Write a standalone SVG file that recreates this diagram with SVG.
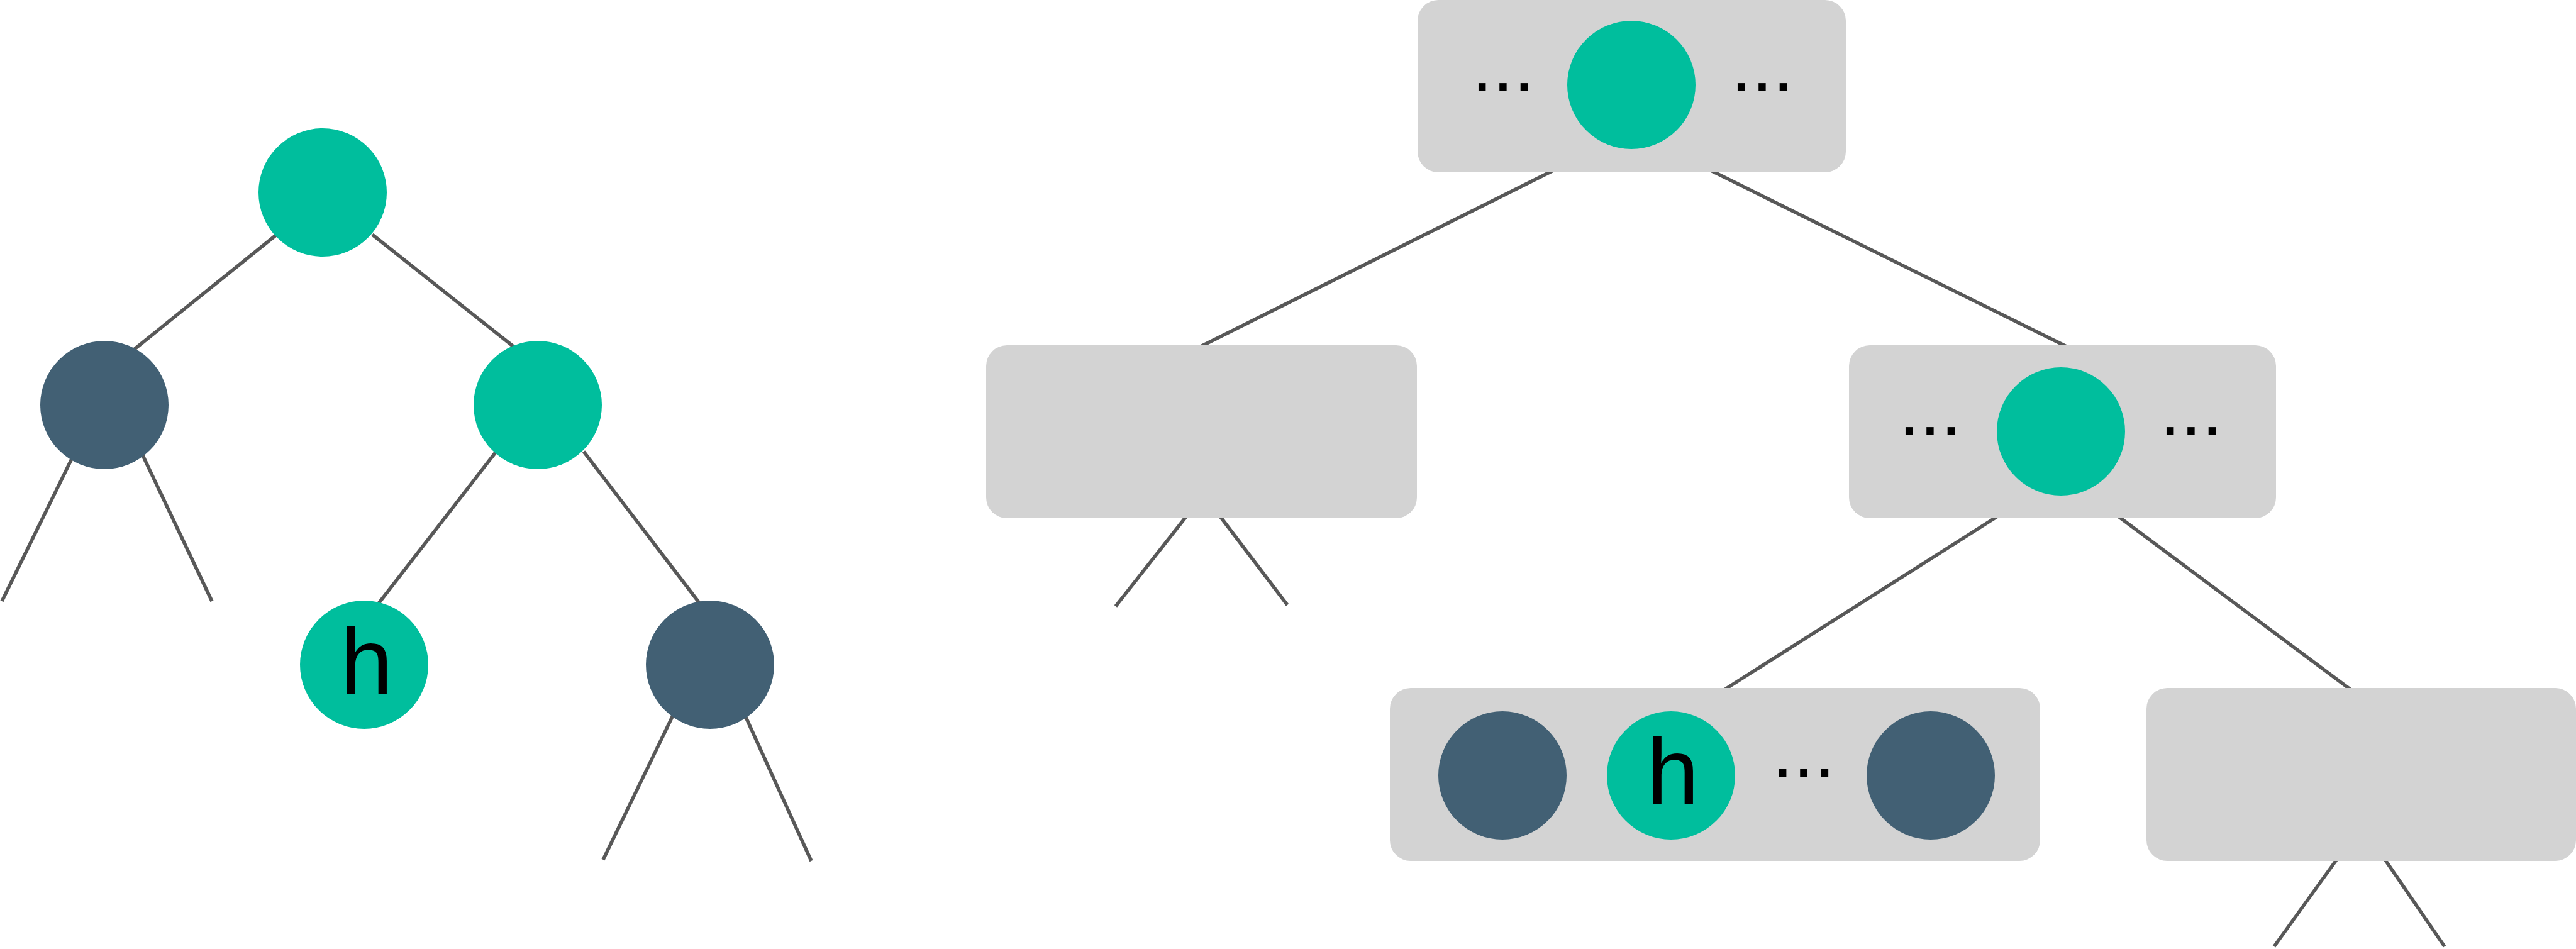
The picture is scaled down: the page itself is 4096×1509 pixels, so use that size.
<svg xmlns="http://www.w3.org/2000/svg" width="4096" height="1509" viewBox="0 0 4096 1509">
<style>
.edge{stroke:#585858;stroke-width:5.5;fill:none}
.g{fill:#00BE9D}
.d{fill:#426074}
.box{fill:#D3D3D3}
.dots{font-family:"Liberation Sans",Arial,sans-serif;font-size:120px;fill:#000;text-anchor:middle}
.lbl{font-family:"Liberation Sans",Arial,sans-serif;font-size:150px;fill:#000;text-anchor:middle}
</style>
<rect width="4096" height="1509" fill="#fff"/>
<g id="connectors">
<line class="edge" x1="440" y1="373" x2="214" y2="555"/>
<line class="edge" x1="592" y1="373" x2="819" y2="553"/>
<line class="edge" x1="156" y1="644" x2="3" y2="956"/>
<line class="edge" x1="189" y1="644" x2="337" y2="956"/>
<line class="edge" x1="789" y1="718" x2="600" y2="962"/>
<line class="edge" x1="928" y1="718" x2="1113" y2="960"/>
<line class="edge" x1="1109" y1="1057" x2="959" y2="1367"/>
<line class="edge" x1="1148" y1="1057" x2="1290" y2="1369"/>
<line class="edge" x1="2480" y1="266" x2="1909" y2="551"/>
<line class="edge" x1="2710" y1="266" x2="3286" y2="551"/>
<line class="edge" x1="1903" y1="800" x2="1774" y2="964"/>
<line class="edge" x1="1924" y1="800" x2="2047" y2="962"/>
<line class="edge" x1="3181" y1="818" x2="2743" y2="1096"/>
<line class="edge" x1="3364" y1="818" x2="3737" y2="1096"/>
<line class="edge" x1="3742" y1="1330" x2="3616" y2="1505"/>
<line class="edge" x1="3767" y1="1330" x2="3887" y2="1505"/>
</g>
<g id="bst-root"><circle class="g" cx="513" cy="306" r="102"/></g>
<g id="bst-left"><circle class="d" cx="166" cy="644" r="102"/></g>
<g id="bst-right"><circle class="g" cx="855" cy="644" r="102"/></g>
<g id="bst-h"><circle class="g" cx="579" cy="1057" r="102"/><text class="lbl" x="583" y="1104">h</text></g>
<g id="bst-dark"><circle class="d" cx="1129" cy="1057" r="102"/></g>
<g id="btree-top">
<rect class="box" x="2254" y="0" width="681" height="274" rx="33" ry="33"/>
<circle class="g" cx="2594" cy="135" r="102"/>
<text class="dots" x="2390" y="145">...</text>
<text class="dots" x="2802" y="145">...</text>
</g>
<g id="btree-midleft">
<rect class="box" x="1568" y="549" width="685" height="275" rx="33" ry="33"/>
</g>
<g id="btree-midright">
<rect class="box" x="2940" y="549" width="679" height="275" rx="33" ry="33"/>
<circle class="g" cx="3277" cy="686" r="102"/>
<text class="dots" x="3069" y="692">...</text>
<text class="dots" x="3484" y="692">...</text>
</g>
<g id="btree-bottomleft">
<rect class="box" x="2210" y="1094" width="1034" height="275" rx="33" ry="33"/>
<circle class="d" cx="2389" cy="1233" r="102"/>
<circle class="g" cx="2657" cy="1233" r="102"/>
<text class="lbl" x="2660" y="1279">h</text>
<text class="dots" x="2868" y="1235">...</text>
<circle class="d" cx="3070" cy="1233" r="102"/>
</g>
<g id="btree-bottomright">
<rect class="box" x="3413" y="1094" width="683" height="275" rx="33" ry="33"/>
</g>
</svg>
